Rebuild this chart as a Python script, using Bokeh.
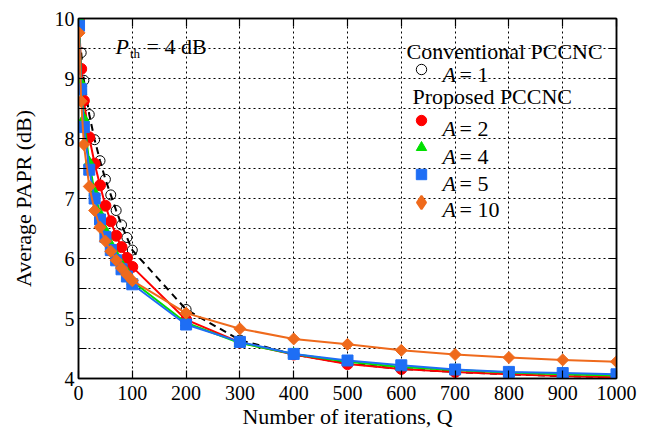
import numpy as np
from bokeh.plotting import figure
from bokeh.models import Range1d, FixedTicker, LinearAxis, Label, Legend, LegendItem
from bokeh.core.properties import value
from bokeh.embed import file_html
from bokeh.resources import INLINE

# ---------------- data ----------------
iterations = [1, 5, 10, 20, 30, 40, 50, 60, 70, 80, 90, 100,
              200, 300, 400, 500, 600, 700, 800, 900, 1000]
iterations_conv = [5, 10, 20, 30, 40, 50, 60, 70, 80, 90, 100,
                   200, 300, 400, 500, 600, 700, 800, 900, 1000]
papr_a1 = [9.43, 8.97, 8.40, 7.98, 7.63, 7.32, 7.06, 6.80, 6.56, 6.35, 6.14,
           5.15, 4.64, 4.40, 4.25, 4.16, 4.11, 4.07, 4.04, 4.02]
papr_a2 = [9.98, 9.16, 8.63, 8.02, 7.58, 7.22, 6.88, 6.62, 6.38, 6.19, 6.01, 5.86,
           4.98, 4.60, 4.40, 4.24, 4.16, 4.11, 4.07, 4.04, 4.02]
papr_a4 = [10.0, 8.92, 8.33, 7.60, 7.10, 6.74, 6.46, 6.23, 6.05, 5.90, 5.77, 5.62,
           4.93, 4.59, 4.41, 4.28, 4.19, 4.14, 4.10, 4.07, 4.05]
papr_a5 = [9.88, 8.82, 8.19, 7.48, 7.00, 6.65, 6.36, 6.14, 5.97, 5.82, 5.70, 5.57,
           4.90, 4.61, 4.41, 4.30, 4.22, 4.15, 4.11, 4.09, 4.07]
papr_a10 = [9.76, 8.62, 7.90, 7.20, 6.80, 6.52, 6.29, 6.12, 5.97, 5.84, 5.73, 5.63,
            5.09, 4.83, 4.66, 4.57, 4.47, 4.40, 4.35, 4.31, 4.28]

x_ticks = [0, 100, 200, 300, 400, 500, 600, 700, 800, 900, 1000]
y_ticks = [4, 5, 6, 7, 8, 9, 10]
y_minor = [4.5, 5.5, 6.5, 7.5, 8.5, 9.5]

# ---------------- styling ----------------
FONT = "Liberation Serif"
RED, GREEN, BLUE, ORANGE = "#ff0000", "#00e000", "#1e6ef5", "#ef6a1c"

# frame geometry (pixels on the canvas)
FL, FR, FT, FB = 78, 616, 18, 378
X0, X1, Y0, Y1 = 0, 1000, 4, 10


def dx(px):
    return X0 + (px - FL) / (FR - FL) * (X1 - X0)


def dy(py):
    return Y1 - (py - FT) / (FB - FT) * (Y1 - Y0)


p = figure(width=654, height=432, output_backend="svg", toolbar_location=None,
           x_range=Range1d(X0, X1), y_range=Range1d(Y0, Y1),
           min_border_left=FL, min_border_right=654 - FR,
           min_border_top=FT, min_border_bottom=432 - FB,
           x_axis_label="Number of iterations, Q", y_axis_label="Average PAPR (dB)")
p.background_fill_color = "white"
p.border_fill_color = "white"
p.outline_line_color = "black"
p.outline_line_width = 1.5

xt = FixedTicker(ticks=x_ticks, minor_ticks=[])
yt = FixedTicker(ticks=y_ticks, minor_ticks=y_minor)


def style_axis(ax, show_labels):
    ax.axis_line_color = "black"
    ax.axis_line_width = 1.5
    ax.major_tick_in = 8
    ax.major_tick_out = 0
    ax.minor_tick_in = 8
    ax.minor_tick_out = 0
    ax.major_tick_line_color = "black"
    ax.minor_tick_line_color = "black"
    ax.major_tick_line_width = 1.2
    ax.minor_tick_line_width = 1.2
    if show_labels:
        ax.major_label_text_font = FONT
        ax.major_label_text_font_size = "20px"
        ax.major_label_text_color = "black"
        ax.axis_label_text_font = FONT
        ax.axis_label_text_font_size = "22px"
        ax.axis_label_text_font_style = "normal"
        ax.axis_label_text_color = "black"
    else:
        ax.major_label_text_font_size = "1px"
        ax.major_label_text_color = None
        ax.major_label_standoff = 0


p.xaxis.ticker = xt
p.yaxis.ticker = yt
style_axis(p.xaxis[0], True)
style_axis(p.yaxis[0], True)
p.xaxis.major_label_standoff = 7
p.xaxis.axis_label_standoff = 1
p.yaxis.major_label_standoff = 4
p.yaxis.axis_label_standoff = 16

top_ax = LinearAxis(ticker=xt)
right_ax = LinearAxis(ticker=yt)
style_axis(top_ax, False)
style_axis(right_ax, False)
p.add_layout(top_ax, "above")
p.add_layout(right_ax, "right")

for g in (p.xgrid[0], p.ygrid[0]):
    g.grid_line_color = "black"
    g.grid_line_width = 1
    g.grid_line_dash = "2 3"
p.xgrid.ticker = xt
p.ygrid.ticker = yt
p.ygrid.minor_grid_line_color = "black"
p.ygrid.minor_grid_line_width = 1
p.ygrid.minor_grid_line_dash = "2 3"

# ---------------- series ----------------
p.line(iterations_conv, papr_a1, line_color="black", line_width=2, line_dash="7 5")
r_a1 = p.scatter(iterations_conv, papr_a1, marker="circle", size=10,
                 fill_color=None, line_color="black", line_width=1)

p.line(iterations, papr_a2, line_color=RED, line_width=2)
r_a2 = p.scatter(iterations, papr_a2, marker="circle", size=11,
                 fill_color=RED, line_color=RED)

p.line(iterations, papr_a4, line_color=GREEN, line_width=2)
r_a4 = p.scatter(iterations, papr_a4, marker="triangle", size=11,
                 fill_color=GREEN, line_color=GREEN)

p.line(iterations, papr_a5, line_color=BLUE, line_width=2)
r_a5 = p.scatter(iterations, papr_a5, marker="square", size=11,
                 fill_color=BLUE, line_color=BLUE)

p.line(iterations, papr_a10, line_color=ORANGE, line_width=2)
p.scatter(iterations, papr_a10, marker="square", angle=np.pi / 4, size=8.5,
          fill_color=ORANGE, line_color=ORANGE)
# legend key for A = 10 (legend keys ignore marker rotation, so use a diamond key;
# NaN position so nothing is drawn inside the plot)
r_a10_key = p.scatter(x=[np.nan], y=[np.nan], marker="diamond", size=12,
                      fill_color=ORANGE, line_color=ORANGE, line_width=2)


# ---------------- legend (markers via Legend, text via Labels) ----------------
def make_legend(items, loc, box=26):
    lg = Legend(items=items, location=loc, orientation="vertical")
    lg.border_line_color = None
    lg.background_fill_alpha = 0
    lg.padding = 0
    lg.margin = 0
    lg.spacing = 1
    lg.glyph_width = box
    lg.glyph_height = box
    lg.label_height = box
    lg.label_width = 1
    lg.label_standoff = 0
    lg.label_text_font_size = "10px"
    lg.label_text_color = None
    return lg


leg1 = make_legend([LegendItem(label=value(" "), renderers=[r_a1])],
                   (408 - FL, FB - 82))
leg2 = make_legend([LegendItem(label=value(" "), renderers=[r_a2]),
                    LegendItem(label=value(" "), renderers=[r_a4]),
                    LegendItem(label=value(" "), renderers=[r_a5])],
                   (408 - FL, FB - 187))
leg3 = make_legend([LegendItem(label=value(" "), renderers=[r_a10_key])],
                   (421 - 17 - FL, FB - 219), box=34)
p.add_layout(leg1)
p.add_layout(leg2)
p.add_layout(leg3)


def add_text(px, py, text, size="22px", style="normal"):
    p.add_layout(Label(x=dx(px), y=dy(py), text=text, text_font=FONT,
                       text_font_size=size, text_font_style=style,
                       text_color="black", text_align="left",
                       text_baseline="alphabetic"))


add_text(406, 50.5, "Conventional PCCNC")
add_text(412, 96, "Proposed PCCNC")
legend_rows = [(74.3, "= 1"), (128.3, "= 2"), (156, "= 4"), (182.7, "= 5"), (209.3, "= 10")]
for base, txt in legend_rows:
    add_text(442, base, "A", style="italic")
    add_text(459, base, txt)

# threshold annotation
add_text(115, 45.5, "P", style="italic")
add_text(129.5, 53, "th", size="13px")
add_text(146, 45.5, "= 4 dB")

open("out.html", "w").write(file_html(p, INLINE))
